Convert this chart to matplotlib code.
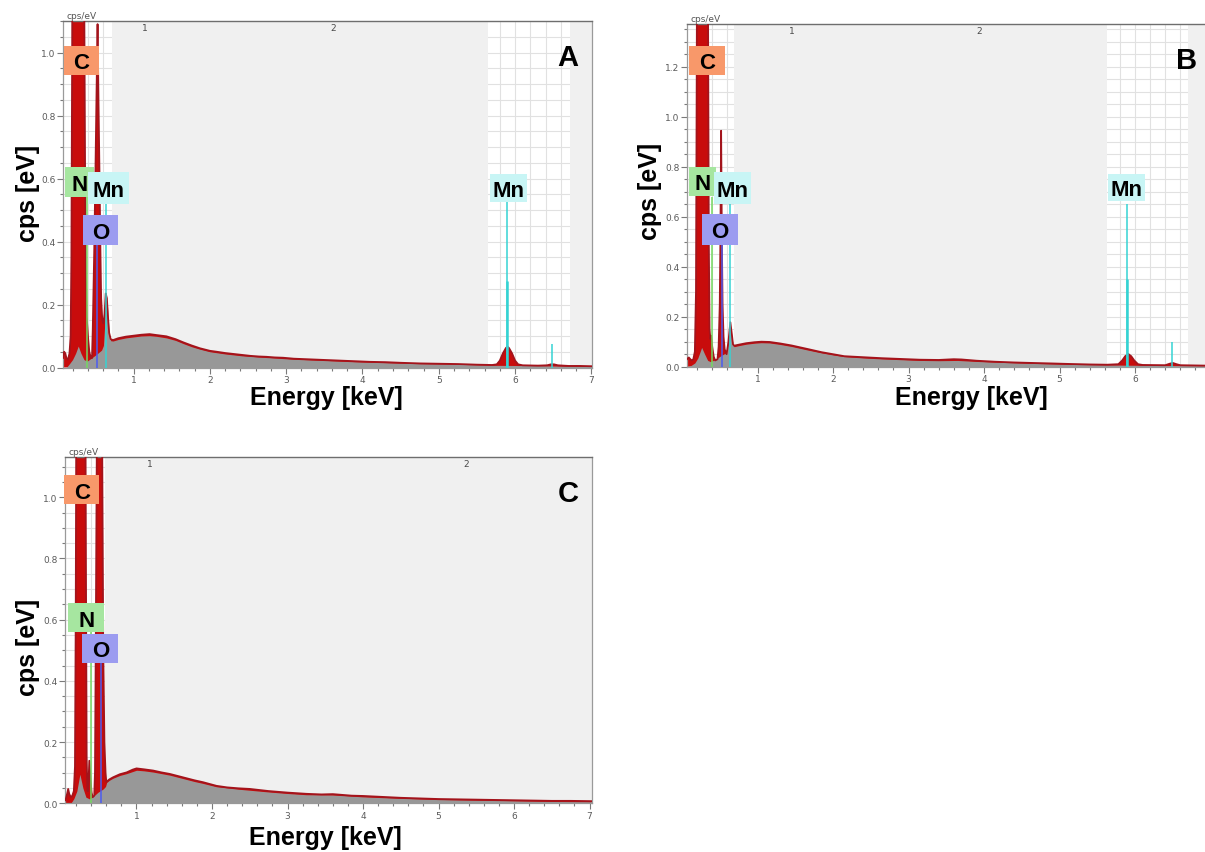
import matplotlib
matplotlib.use('Agg')
import matplotlib.pyplot as plt
from matplotlib.patches import Rectangle
from matplotlib.ticker import MultipleLocator, FormatStrFormatter, FixedLocator

# ---------------- data ----------------
# Panel A: measured spectrum (red) and fitted/background spectrum (grey)
energy_A = [0.075, 0.09, 0.105, 0.12, 0.14, 0.16, 0.175, 0.185, 0.195, 0.21, 0.24, 0.275, 0.31, 0.34,
            0.355, 0.365, 0.375, 0.385, 0.393, 0.405, 0.42, 0.44, 0.455, 0.465, 0.475, 0.485, 0.50,
            0.515, 0.528, 0.54, 0.555, 0.565, 0.575, 0.59, 0.605, 0.62, 0.635, 0.65, 0.665, 0.68,
            0.70, 0.73,
            0.80, 0.90, 1.00, 1.10, 1.21, 1.30, 1.43, 1.55, 1.65, 1.76, 1.87, 2.0, 2.09, 2.2, 2.31,
            2.42, 2.53, 2.64, 2.74, 2.85, 2.96, 3.1, 3.3, 3.5, 3.7, 3.9, 4.1, 4.3, 4.5, 4.75, 5.0,
            5.25, 5.5, 5.7, 5.76, 5.80, 5.84, 5.88, 5.90, 5.92, 5.96, 6.0, 6.04, 6.1, 6.3, 6.42,
            6.47, 6.51, 6.56, 6.7, 6.85, 7.01]
cps_A = [0.03, 0.05, 0.045, 0.03, 0.025, 0.045, 0.10, 0.35, 1.0, 2.5, 6.0, 8.0, 6.0, 2.5,
         1.1, 0.6, 0.3, 0.16, 0.133, 0.09, 0.05, 0.03, 0.03, 0.12, 0.25, 0.38, 0.62,
         0.88, 1.09, 0.85, 0.58, 0.38, 0.22, 0.15, 0.14, 0.17, 0.235, 0.22, 0.16, 0.11,
         0.09, 0.087,
         0.093, 0.098, 0.101, 0.104, 0.106, 0.103, 0.099, 0.09, 0.08, 0.07, 0.061, 0.053, 0.05,
         0.046, 0.043, 0.04, 0.037, 0.035, 0.034, 0.032, 0.031, 0.028, 0.026, 0.024, 0.022,
         0.02, 0.018, 0.017, 0.015, 0.013, 0.012, 0.011, 0.009, 0.008, 0.01, 0.022, 0.045,
         0.062, 0.066, 0.062, 0.045, 0.022, 0.01, 0.007, 0.006, 0.007, 0.010, 0.010, 0.007,
         0.005, 0.005, 0.004]
energy_fit_A = [0.075, 0.12, 0.16, 0.20, 0.24, 0.275, 0.31, 0.35, 0.39, 0.45, 0.52, 0.58, 0.605,
                0.625, 0.645, 0.66, 0.68, 0.70, 0.73, 0.80, 0.90, 1.00, 1.10, 1.21, 1.30, 1.43,
                1.55, 1.65, 1.76, 1.87, 2.0, 2.2, 2.42, 2.64, 2.85, 3.1, 3.5, 3.9, 4.3, 4.75,
                5.25, 5.7, 6.2, 6.7, 7.01]
fit_A = [0.0, 0.0, 0.012, 0.025, 0.045, 0.068, 0.045, 0.025, 0.02, 0.03, 0.043, 0.055, 0.07,
         0.15, 0.225, 0.19, 0.11, 0.085, 0.084, 0.089, 0.094, 0.097, 0.100, 0.101, 0.099, 0.094,
         0.086, 0.076, 0.066, 0.058, 0.05, 0.043, 0.037, 0.033, 0.03, 0.026, 0.022, 0.018,
         0.015, 0.012, 0.01, 0.007, 0.006, 0.004, 0.003]

# Panel B
energy_B = [0.066, 0.09, 0.11, 0.13, 0.15, 0.17, 0.185, 0.195, 0.21, 0.24, 0.27, 0.30, 0.33,
            0.345, 0.355, 0.365, 0.375, 0.385, 0.40, 0.42, 0.44, 0.47, 0.485, 0.50, 0.508, 0.518,
            0.528, 0.537, 0.55, 0.565, 0.59, 0.615, 0.64, 0.66, 0.675, 0.69, 0.75, 0.85, 0.96, 1.05,
            1.16, 1.3, 1.45, 1.66, 1.85, 2.0, 2.15, 2.4, 2.65, 2.9, 3.15, 3.4, 3.6, 3.7, 3.9,
            4.14, 4.4, 4.64, 4.9, 5.13, 5.4, 5.63, 5.78, 5.83, 5.87, 5.91, 5.95, 5.99, 6.04,
            6.1, 6.4, 6.46, 6.5, 6.55, 6.6, 6.8, 7.0]
cps_B = [0.03, 0.037, 0.03, 0.025, 0.03, 0.06, 0.3, 1.2, 3.0, 6.0, 8.0, 6.0, 3.0,
         1.4, 0.5, 0.15, 0.11, 0.124, 0.08, 0.04, 0.025, 0.03, 0.08, 0.25, 0.5, 0.944,
         0.5, 0.25, 0.12, 0.07, 0.05, 0.1, 0.178, 0.13, 0.09, 0.084, 0.088, 0.094, 0.098, 0.1,
         0.099, 0.093, 0.085, 0.071, 0.058, 0.05, 0.042, 0.038, 0.034, 0.031, 0.028, 0.027,
         0.03, 0.029, 0.024, 0.02, 0.017, 0.015, 0.013, 0.011, 0.009, 0.008, 0.01, 0.025,
         0.042, 0.051, 0.042, 0.025, 0.01, 0.007, 0.006, 0.012, 0.015, 0.01, 0.006, 0.005,
         0.004]
energy_fit_B = [0.066, 0.12, 0.17, 0.21, 0.26, 0.30, 0.34, 0.38, 0.45, 0.52, 0.58, 0.61, 0.64,
                0.66, 0.68, 0.69, 0.75, 0.85, 0.96, 1.05, 1.16, 1.3, 1.45, 1.66, 1.85, 2.0,
                2.15, 2.4, 2.65, 2.9, 3.15, 3.4, 3.65, 3.9, 4.14, 4.64, 5.13, 5.63, 6.2, 7.0]
fit_B = [0.0, 0.005, 0.015, 0.035, 0.077, 0.05, 0.025, 0.02, 0.03, 0.045, 0.055, 0.09, 0.17,
         0.12, 0.085, 0.08, 0.084, 0.09, 0.094, 0.096, 0.095, 0.089, 0.081, 0.067, 0.055,
         0.047, 0.04, 0.035, 0.031, 0.028, 0.025, 0.024, 0.025, 0.021, 0.018, 0.013, 0.009,
         0.007, 0.005, 0.003]

# Panel C
energy_C = [0.06, 0.08, 0.095, 0.11, 0.13, 0.15, 0.17, 0.185, 0.195, 0.205, 0.23, 0.265, 0.30,
            0.32, 0.33, 0.34, 0.35, 0.36, 0.375, 0.39, 0.405, 0.42, 0.44, 0.45, 0.46, 0.475,
            0.50, 0.525, 0.545, 0.56, 0.575, 0.59, 0.60, 0.64, 0.69, 0.78, 0.87, 0.95, 1.0, 1.1, 1.22,
            1.33, 1.44, 1.55, 1.66, 1.77, 1.88, 2.06, 2.2, 2.35, 2.5, 2.75, 3.0, 3.25, 3.45,
            3.6, 3.7, 3.85, 4.0, 4.25, 4.5, 4.75, 5.0, 5.25, 5.5, 5.75, 6.0, 6.25, 6.5, 6.75,
            7.03]
cps_C = [0.01, 0.03, 0.047, 0.03, 0.02, 0.025, 0.04, 0.12, 0.6, 1.5, 4.0, 6.0, 4.0,
         1.6, 0.8, 0.15, 0.04, 0.04, 0.139, 0.08, 0.035, 0.02, 0.025, 0.1, 0.5, 1.2,
         2.5, 2.5, 1.2, 0.5, 0.2, 0.1, 0.07, 0.078, 0.085, 0.095, 0.101, 0.11, 0.114, 0.111,
         0.107, 0.101, 0.096, 0.089, 0.082, 0.075, 0.069, 0.057, 0.052, 0.049, 0.047, 0.04,
         0.035, 0.031, 0.029, 0.03, 0.028, 0.025, 0.024, 0.021, 0.018, 0.016, 0.014, 0.013,
         0.012, 0.011, 0.01, 0.009, 0.008, 0.008, 0.007]
energy_fit_C = [0.053, 0.13, 0.17, 0.21, 0.25, 0.29, 0.33, 0.38, 0.44, 0.49, 0.56, 0.59, 0.605,
                0.64, 0.69, 0.78, 0.87, 1.0, 1.1, 1.22, 1.33, 1.44, 1.55, 1.66, 1.77, 1.88,
                2.06, 2.35, 2.75, 3.0, 3.25, 3.6, 4.0, 4.5, 5.0, 5.5, 6.0, 6.5, 7.03]
fit_C = [0.0, 0.0, 0.015, 0.04, 0.095, 0.05, 0.02, 0.014, 0.025, 0.036, 0.047, 0.055, 0.068,
         0.075, 0.082, 0.091, 0.097, 0.108, 0.106, 0.102, 0.097, 0.092, 0.085, 0.078, 0.071,
         0.065, 0.054, 0.046, 0.037, 0.032, 0.028, 0.027, 0.021, 0.016, 0.012, 0.01, 0.008,
         0.006, 0.005]

# Element lines: (element, energy keV, line top cps)
lines_A = [('N', 0.392, 0.54), ('O', 0.525, 0.39), ('Mn', 0.637, 0.52), ('Mn', 5.899, 0.525),
           ('Mn', 6.490, 0.075)]
lines_B = [('N', 0.392, 0.68), ('O', 0.525, 0.49), ('Mn', 0.637, 0.65), ('Mn', 5.899, 0.65),
           ('Mn', 6.490, 0.098)]
lines_C = [('N', 0.392, 0.56), ('O', 0.525, 0.46)]
# strong Mn K-alpha marker heights
mn_ka_marker = {'A': 0.275, 'B': 0.35}

# Element labels: (text, x keV, y cps, box width px, box height px)
labels_A = [('C', 0.317, 0.975, 35, 29), ('N', 0.291, 0.589, 29, 30), ('Mn', 0.671, 0.570, 41, 32),
            ('O', 0.566, 0.437, 35, 30), ('Mn', 5.913, 0.570, 37, 28)]
labels_B = [('C', 0.331, 1.225, 36, 29), ('N', 0.272, 0.741, 27, 29), ('Mn', 0.669, 0.715, 37, 32),
            ('O', 0.500, 0.549, 36, 31), ('Mn', 5.889, 0.717, 37, 27)]
labels_C = [('C', 0.274, 1.025, 35, 29), ('N', 0.335, 0.607, 36, 29), ('O', 0.523, 0.506, 36, 29)]

# shaded (grey) regions of the software display
shaded_A = [(0.717, 5.645), (6.72, 7.05)]
shaded_B = [(0.69, 5.63), (6.70, 7.05)]
shaded_C = [(0.58, 7.05)]
# region numbers at the top of each plot
region_ticks_A = [(1.15, '1'), (3.61, '2')]
region_ticks_B = [(1.46, '1'), (3.93, '2')]
region_ticks_C = [(1.17, '1'), (5.37, '2')]
# energy tick labels shown on each x axis
xticks_A = [1, 2, 3, 4, 5, 6, 7]
xticks_B = [1, 2, 3, 4, 5, 6]
xticks_C = [1, 2, 3, 4, 5, 6, 7]

# ---------------- styles ----------------
RED = '#c80c0c'
RED_LINE = '#a3141c'
GREY = '#989898'
SHADE = '#f0f0f0'
GRID = '#e1e1e1'
BOX_COL = {'C': '#f8986a', 'N': '#a6e6a0', 'O': '#9c9cf0', 'Mn': '#c8f5f5'}
LINE_COL = {'N': '#74d860', 'O': '#4c5cf0', 'Mn': '#35d3d3'}
LABEL_FONT = 'Liberation Sans'

W, H = 1205, 853
fig = plt.figure(figsize=(W / 100, H / 100), dpi=100)
fig.patch.set_facecolor('white')


def axes_px(l, t, r, b):
    return fig.add_axes([l / W, 1 - b / H, (r - l) / W, (b - t) / H])


def draw_panel(ax, energy, cps, e_fit, fit, xlim, ylim, shaded, lines, labels, region_ticks,
               letter, ka_marker, ylab_xy, xlab_xy, xticks):
    ax.set_xlim(*xlim)
    ax.set_ylim(*ylim)
    ax.set_facecolor('white')
    ax.set_axisbelow(True)
    ax.xaxis.set_major_locator(FixedLocator(xticks))
    ax.xaxis.set_minor_locator(MultipleLocator(0.2))
    ax.yaxis.set_major_locator(MultipleLocator(0.2))
    ax.yaxis.set_minor_locator(MultipleLocator(0.05))
    ax.xaxis.set_major_formatter(FormatStrFormatter('%d'))
    ax.yaxis.set_major_formatter(FormatStrFormatter('%.1f'))
    ax.grid(True, which='both', color=GRID, lw=0.8)
    ax.tick_params(which='both', direction='out', color='#7a7a7a', labelsize=6.5,
                   labelcolor='#5a5a5a', pad=1.5, width=0.8)
    ax.tick_params(which='major', length=4)
    ax.tick_params(which='minor', length=2.5)
    for side in ['left', 'bottom', 'right']:
        ax.spines[side].set_color('#9a9a9a')
        ax.spines[side].set_linewidth(0.9)
    ax.spines['top'].set_color('#6e6e6e')
    ax.spines['top'].set_linewidth(1.0)

    for a, b in shaded:
        ax.axvspan(a, b, color=SHADE, lw=0, zorder=1)

    ax.fill_between(energy, cps, 0, color=RED, lw=0, zorder=2)
    ax.fill_between(e_fit, fit, 0, color=GREY, lw=0, zorder=3)
    ax.plot(energy, cps, color=RED_LINE, lw=1.3, zorder=4)

    for el, e, top in lines:
        ax.vlines(e, 0, top, color=LINE_COL[el], lw=1.1, zorder=5)
    if ka_marker is not None:
        ax.vlines(5.899, 0, ka_marker, color=LINE_COL['Mn'], lw=1.8, zorder=5)

    # pixel -> data conversion
    pos = ax.get_position()
    dx = (xlim[1] - xlim[0]) / (pos.width * W)
    dy = (ylim[1] - ylim[0]) / (pos.height * H)
    for txt, x, y, wpx, hpx in labels:
        ax.add_patch(Rectangle((x - wpx / 2 * dx, y - hpx / 2 * dy), wpx * dx, hpx * dy,
                               facecolor=BOX_COL[txt], edgecolor='none', zorder=6, clip_on=False))
        ax.text(x, y - 8 * dy, txt, ha='center', va='baseline', fontsize=16, fontweight='bold',
                family=LABEL_FONT, color='black', zorder=7, clip_on=False)

    for x, t in region_ticks:
        ax.text(x, 0.98, t, transform=ax.get_xaxis_transform(), ha='center', va='center',
                fontsize=6.5, color='#4a4a4a', zorder=8)
    ax.text(0.006, 1.002, 'cps/eV', transform=ax.transAxes, ha='left', va='bottom',
            fontsize=6.5, color='#555555')
    ax.text(0.954, 0.895, letter, transform=ax.transAxes, ha='center', va='center',
            fontsize=21, fontweight='bold', family=LABEL_FONT, zorder=8)

    ax.set_ylabel('cps [eV]', fontsize=18, fontweight='bold', family=LABEL_FONT)
    ax.yaxis.label.set_va('center')
    ax.yaxis.set_label_coords(*ylab_xy)
    ax.set_xlabel('Energy [keV]', fontsize=18, fontweight='bold', family=LABEL_FONT)
    ax.xaxis.label.set_va('center')
    ax.xaxis.set_label_coords(*xlab_xy)


axA = axes_px(63, 22, 592, 368.5)
axB = axes_px(687, 25, 1210.5, 367.7)
axC = axes_px(65, 457.5, 592, 804.3)

draw_panel(axA, energy_A, cps_A, energy_fit_A, fit_A, (0.075, 7.008), (0, 1.10), shaded_A,
           lines_A, labels_A, region_ticks_A, 'A', mn_ka_marker['A'], (-0.066, 0.506),
           (0.497, -0.085), xticks_A)
draw_panel(axB, energy_B, cps_B, energy_fit_B, fit_B, (0.066, 7.0), (0, 1.371), shaded_B,
           lines_B, labels_B, region_ticks_B, 'B', mn_ka_marker['B'], (-0.071, 0.513),
           (0.5425, -0.088), xticks_B)
draw_panel(axC, energy_C, cps_C, energy_fit_C, fit_C, (0.053, 7.033), (0, 1.133), shaded_C,
           lines_C, labels_C, region_ticks_C, 'C', None, (-0.070, 0.451), (0.495, -0.097),
           xticks_C)

fig.savefig('out.png', dpi=100, facecolor='white')
